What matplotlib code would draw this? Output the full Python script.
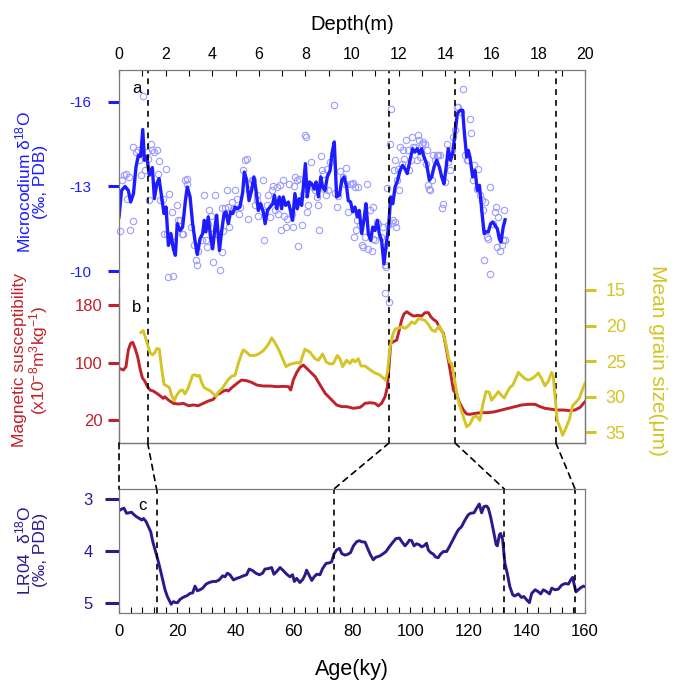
import matplotlib
matplotlib.use("Agg")
import matplotlib.pyplot as plt
from matplotlib.patches import ConnectionPatch
from matplotlib.ticker import MultipleLocator

plt.rcParams["font.family"] = ["Liberation Sans", "DejaVu Sans"]
plt.rcParams["mathtext.fontset"] = "custom"
plt.rcParams["mathtext.rm"] = "Liberation Sans"
plt.rcParams["mathtext.it"] = "Liberation Sans:italic"
plt.rcParams["axes.unicode_minus"] = False

# ===== データ =====
# (a) Microcodium d18O 平滑線 (深度 m)
mc_depth = [
    0.00, 0.11, 0.26, 0.40, 0.50, 0.62, 0.73, 0.83, 0.93, 1.02,
    1.09, 1.19, 1.30, 1.43, 1.52, 1.62, 1.72, 1.83, 1.93, 2.02,
    2.12, 2.23, 2.33, 2.42, 2.50, 2.62, 2.73, 2.85, 2.93, 3.05,
    3.16, 3.26, 3.36, 3.48, 3.59, 3.66, 3.73, 3.83, 3.93, 4.02,
    4.12, 4.19, 4.31, 4.41, 4.51, 4.59, 4.69, 4.79, 4.88, 4.98,
    5.08, 5.19, 5.31, 5.38, 5.48, 5.58, 5.69, 5.79, 5.88, 5.98,
    6.08, 6.19, 6.27, 6.37, 6.48, 6.60, 6.67, 6.77, 6.88, 6.98,
    7.05, 7.15, 7.27, 7.37, 7.45, 7.55, 7.65, 7.74, 7.84, 7.91,
    8.00, 8.08, 8.17, 8.27, 8.37, 8.46, 8.56, 8.66, 8.74, 8.84,
    8.94, 9.06, 9.14, 9.24, 9.34, 9.46, 9.56, 9.66, 9.77, 9.84,
    9.94, 10.03, 10.13, 10.23, 10.31, 10.42, 10.52, 10.60, 10.70, 10.80,
    10.89, 10.99, 11.09, 11.17, 11.27, 11.37, 11.49, 11.57, 11.66, 11.75,
    11.85, 11.96, 12.06, 12.17, 12.27, 12.37, 12.49, 12.60, 12.70, 12.80,
    12.89, 12.99, 13.09, 13.20, 13.32, 13.42, 13.52, 13.63, 13.75, 13.85,
    13.95, 14.06, 14.13, 14.23, 14.32, 14.42, 14.52, 14.64, 14.75, 14.82,
    14.92, 14.99, 15.06, 15.18, 15.28, 15.38, 15.47, 15.57, 15.67, 15.75,
    15.85, 15.95, 16.04, 16.14, 16.24, 16.32, 16.39, 16.49, 16.57,
]
mc_d18o = [
    -11.92, -12.86, -13.0, -12.86, -12.45, -12.75, -13.69, -14.1, -14.07, -15.02,
    -13.93, -14.07, -13.4, -13.67, -12.57, -13.1, -13.28, -12.63, -12.04, -12.27,
    -10.91, -11.33, -10.79, -10.56, -11.68, -11.44, -11.56, -12.5, -12.98, -12.63,
    -11.68, -11.09, -10.59, -11.15, -11.33, -11.8, -11.39, -11.92, -11.21, -10.79,
    -11.56, -11.98, -10.73, -11.44, -12.04, -12.1, -11.68, -12.1, -12.04, -12.27,
    -12.21, -12.27, -12.8, -13.51, -13.22, -12.5, -12.86, -13.34, -12.86, -12.15,
    -12.39, -12.1, -11.68, -12.15, -12.27, -12.39, -12.69, -12.21, -12.63, -12.21,
    -12.63, -12.33, -12.45, -12.1, -11.8, -12.75, -12.21, -12.57, -12.33, -12.98,
    -13.81, -12.63, -13.16, -13.1, -12.92, -13.16, -12.63, -13.34, -12.98, -12.86,
    -13.34, -13.57, -14.17, -14.58, -12.63, -12.69, -13.22, -13.34, -12.98, -12.5,
    -12.45, -12.1, -12.27, -11.92, -12.15, -11.33, -11.86, -12.39, -11.33, -11.09,
    -11.56, -11.44, -11.8, -11.33, -11.09, -10.26, -11.09, -11.56, -12.63, -12.39,
    -12.98, -13.22, -13.57, -13.75, -13.63, -13.46, -13.93, -14.34, -14.22, -14.34,
    -14.17, -14.34, -14.05, -13.81, -13.22, -13.34, -13.69, -13.93, -13.69, -13.34,
    -13.1, -13.81, -14.34, -13.93, -14.17, -14.88, -15.59, -15.7, -15.7, -14.93,
    -14.05, -14.28, -14.05, -13.34, -13.57, -12.86, -13.04, -12.15, -11.33, -11.39,
    -11.39, -11.68, -11.74, -11.62, -11.5, -11.15, -11.03, -11.56, -11.82,
]

# (a) 測定点
pt_depth = [
    0.04, 0.14, 0.21, 0.29, 0.33, 0.44, 0.47, 0.59, 0.62, 0.73,
    0.80, 0.87, 0.96, 1.04, 1.10, 1.19, 1.26, 1.30, 1.36, 1.40,
    1.52, 1.62, 1.67, 1.73, 1.76, 1.87, 1.93, 2.02, 2.05, 2.16,
    2.26, 2.33, 2.50, 2.55, 2.62, 2.69, 2.76, 2.83, 2.90, 2.93,
    3.08, 3.22, 3.30, 3.36, 3.40, 3.55, 3.65, 3.73, 3.76, 3.81,
    3.88, 3.95, 3.98, 4.05, 4.12, 4.19, 4.33, 4.41, 4.43, 4.48,
    4.55, 4.62, 4.69, 4.74, 4.84, 4.88, 4.98, 5.08, 5.16, 5.19,
    5.31, 5.41, 5.48, 5.55, 5.59, 5.69, 5.77, 5.84, 5.91, 5.94,
    5.98, 6.17, 6.22, 6.27, 6.34, 6.41, 6.48, 6.55, 6.62, 6.70,
    6.77, 6.84, 6.91, 6.94, 7.02, 7.08, 7.15, 7.20, 7.31, 7.41,
    7.45, 7.51, 7.57, 7.65, 7.67, 7.74, 7.84, 7.91, 7.97, 8.03,
    8.08, 8.13, 8.24, 8.34, 8.41, 8.48, 8.56, 8.60, 8.66, 8.70,
    8.77, 8.81, 8.88, 8.94, 8.98, 9.06, 9.23, 9.27, 9.34, 9.41,
    9.49, 9.60, 9.70, 9.74, 9.84, 9.91, 9.99, 10.06, 10.09, 10.13,
    10.17, 10.20, 10.27, 10.34, 10.42, 10.49, 10.56, 10.63, 10.70, 10.77,
    10.84, 10.89, 10.92, 10.99, 11.06, 11.13, 11.23, 11.34, 11.37, 11.42,
    11.46, 11.52, 11.56, 11.63, 11.66, 11.70, 11.75, 11.85, 11.89, 11.80,
    11.85, 11.92, 11.96, 12.03, 12.06, 12.13, 12.17, 12.23, 12.32, 12.42,
    12.46, 12.52, 12.56, 12.63, 12.70, 12.78, 12.85, 12.89, 12.92, 12.99,
    13.06, 13.13, 13.18, 13.20, 13.28, 13.32, 13.35, 13.42, 13.49, 13.56,
    13.63, 13.71, 13.78, 13.85, 13.92, 13.99, 14.06, 14.13, 14.21, 14.28,
    14.35, 14.42, 14.49, 14.56, 14.66, 14.78, 14.85, 14.92, 14.99, 15.06,
    15.09, 15.18, 15.25, 15.35, 15.42, 15.49, 15.57, 15.64, 15.67, 15.71,
    15.78, 15.85, 15.92, 15.92, 16.04, 16.14, 16.18, 16.21, 16.28, 16.35,
    16.42, 16.47, 16.52, 16.57, 11.42, 11.59, 2.10, 2.32,
]
pt_d18o = [
    -11.42, -13.22, -13.40, -13.46, -12.57, -13.34, -11.44, -11.78, -14.40, -14.22,
    -14.28, -13.93, -13.42, -16.20, -13.57, -14.22, -13.99, -12.51, -14.50, -14.28,
    -14.22, -14.31, -13.46, -13.91, -12.51, -12.57, -11.30, -13.63, -11.33, -12.75,
    -12.09, -11.03, -12.33, -11.80, -11.80, -11.33, -11.33, -13.22, -13.10, -13.27,
    -11.56, -10.91, -10.38, -10.20, -10.73, -11.09, -12.69, -11.09, -10.85, -11.68,
    -12.15, -11.94, -11.33, -10.32, -12.69, -11.33, -10.05, -10.67, -12.25, -11.42,
    -12.25, -12.89, -12.27, -11.56, -12.45, -12.21, -12.86, -12.57, -12.04, -12.27,
    -13.57, -13.93, -13.99, -11.86, -12.86, -13.22, -13.22, -12.33, -12.51, -12.69,
    -11.94, -13.22, -11.09, -12.09, -12.33, -12.69, -11.92, -12.86, -13.01, -12.15,
    -12.98, -12.04, -13.04, -11.47, -13.22, -11.94, -11.56, -11.86, -13.10, -12.04,
    -11.56, -13.01, -13.34, -13.22, -10.88, -13.28, -11.62, -12.75, -14.82, -14.76,
    -12.09, -12.33, -13.87, -12.98, -12.86, -12.63, -12.33, -11.44, -14.07, -13.57,
    -13.46, -12.92, -12.69, -13.63, -12.86, -13.87, -15.88, -12.77, -12.27, -12.65,
    -13.55, -13.34, -13.10, -13.67, -12.09, -13.10, -13.10, -13.12, -11.21, -12.98,
    -11.44, -11.80, -12.98, -11.62, -10.91, -10.85, -11.21, -13.10, -10.79, -12.15,
    -10.73, -12.27, -11.15, -11.09, -11.74, -11.68, -11.21, -11.56, -10.85, -10.20,
    -10.14, -12.96, -11.62, -14.52, -15.76, -11.70, -11.80, -11.74, -11.56, -13.57,
    -13.93, -13.22, -13.63, -12.86, -14.40, -13.81, -14.28, -13.99, -14.64, -14.28,
    -13.57, -13.93, -14.76, -14.40, -14.40, -13.93, -14.82, -14.64, -14.05, -14.52,
    -14.58, -14.52, -13.81, -14.28, -13.04, -12.92, -12.86, -13.22, -14.11, -13.93,
    -14.11, -14.11, -14.11, -12.25, -12.37, -13.16, -14.52, -13.87, -13.57, -14.28,
    -14.76, -15.01, -15.82, -15.82, -15.64, -16.45, -14.11, -13.93, -13.93, -15.41,
    -14.88, -13.22, -13.75, -12.92, -13.63, -12.69, -12.51, -12.15, -10.38, -12.45,
    -11.21, -11.15, -12.98, -9.91, -11.68, -12.09, -12.27, -10.85, -11.92, -10.73,
    -10.91, -11.09, -12.15, -11.09, -9.24, -8.89, -9.78, -9.81,
]

# (b) 帯磁率
ms_depth = [
    0.00, 0.19, 0.30, 0.40, 0.50, 0.59, 0.69, 0.80, 0.90, 1.00,
    1.12, 1.22, 1.33, 1.47, 1.62, 1.76, 1.90, 1.97, 2.12, 2.33,
    2.55, 2.76, 2.98, 3.19, 3.40, 3.62, 3.83, 4.05, 4.19, 4.33,
    4.48, 4.62, 4.69, 4.84, 4.98, 5.12, 5.26, 5.48, 5.69, 5.91,
    6.19, 6.48, 6.77, 7.05, 7.27, 7.37, 7.48, 7.63, 7.77, 7.91,
    8.13, 8.42, 8.63, 8.85, 9.06, 9.34, 9.56, 9.77, 10.06, 10.35,
    10.56, 10.78, 10.99, 11.13, 11.27, 11.42, 11.52, 11.60, 11.66, 11.78,
    11.92, 12.03, 12.13, 12.23, 12.35, 12.49, 12.63, 12.85, 12.99, 13.13,
    13.28, 13.38, 13.49, 13.63, 13.78, 13.92, 14.06, 14.21, 14.35, 14.49,
    14.63, 14.78, 14.92, 15.06, 15.28, 15.57, 15.85, 16.14, 16.42, 16.71,
    17.00, 17.28, 17.57, 17.86, 18.07, 18.28, 18.57, 18.78, 19.07, 19.36,
    19.57, 19.79, 20.00,
]
ms_val = [
    91.9, 89.6, 94.2, 117.4, 126.7, 128.1, 119.7, 108.1, 91.9, 78.9,
    73.3, 66.4, 61.7, 60.3, 57.1, 53.8, 50.1, 52.4, 47.8, 43.2,
    42.2, 43.2, 39.9, 40.9, 39.9, 43.2, 46.4, 48.7, 54.8, 57.1,
    60.3, 61.7, 60.3, 65.0, 68.7, 72.4, 75.6, 74.7, 72.4, 68.7,
    67.3, 67.3, 66.4, 66.8, 66.4, 61.7, 75.6, 86.3, 93.3, 96.5,
    89.6, 80.3, 68.7, 57.1, 50.2, 40.9, 38.6, 38.6, 36.3, 37.6,
    43.2, 44.1, 43.2, 39.5, 43.2, 52.5, 66.4, 98.9, 126.7, 129.0,
    131.3, 145.2, 159.1, 167.5, 170.7, 167.5, 164.7, 165.6, 164.7, 169.3,
    169.3, 163.8, 160.1, 156.8, 147.5, 140.6, 117.4, 89.6, 61.8, 54.8,
    43.2, 33.9, 28.4, 27.9, 29.3, 30.2, 30.2, 31.6, 33.9, 36.3,
    38.6, 40.9, 41.8, 41.8, 38.6, 36.3, 34.9, 33.9, 33.9, 33.0,
    33.9, 37.6, 45.5,
]

# (b) 平均粒径
gs_depth = [
    0.94, 1.04, 1.12, 1.22, 1.33, 1.44, 1.55, 1.62, 1.73, 1.83,
    1.93, 2.05, 2.16, 2.26, 2.37, 2.47, 2.62, 2.73, 2.83, 2.95,
    3.05, 3.16, 3.26, 3.36, 3.45, 3.55, 3.65, 3.76, 3.91, 4.05,
    4.16, 4.26, 4.41, 4.55, 4.69, 4.84, 4.98, 5.12, 5.26, 5.34,
    5.48, 5.62, 5.77, 5.91, 6.05, 6.19, 6.34, 6.45, 6.55, 6.65,
    6.77, 6.91, 7.05, 7.17, 7.31, 7.48, 7.63, 7.77, 7.98, 8.20,
    8.41, 8.56, 8.74, 8.89, 9.06, 9.20, 9.37, 9.48, 9.60, 9.77,
    9.91, 10.03, 10.13, 10.27, 10.39, 10.56, 10.78, 10.99, 11.17, 11.34,
    11.43, 11.52, 11.63, 11.75, 11.85, 11.99, 12.13, 12.28, 12.42, 12.56,
    12.70, 12.85, 12.99, 13.13, 13.28, 13.42, 13.56, 13.66, 13.75, 13.85,
    13.95, 14.06, 14.18, 14.28, 14.38, 14.49, 14.61, 14.75, 14.92, 15.06,
    15.21, 15.35, 15.49, 15.61, 15.75, 15.89, 15.99, 16.14, 16.28, 16.42,
    16.54, 16.67, 16.78, 16.90, 17.00, 17.14, 17.28, 17.43, 17.57, 17.71,
    17.86, 18.00, 18.14, 18.28, 18.43, 18.57, 18.64, 18.71, 18.81, 18.93,
    19.04, 19.18, 19.33, 19.47, 19.61, 19.76, 19.90, 20.00,
]
gs_val = [
    20.98, 20.71, 21.52, 22.64, 23.77, 24.13, 23.77, 23.23, 23.32, 26.01,
    28.26, 28.48, 28.71, 29.83, 30.59, 29.83, 29.16, 29.07, 29.61, 28.93,
    28.03, 27.0, 26.91, 27.13, 27.0, 28.03, 28.71, 28.93, 29.16, 29.61,
    29.96, 29.38, 28.93, 28.26, 27.58, 27.13, 27.0, 25.34, 23.99, 23.41,
    23.77, 24.21, 24.21, 24.13, 23.86, 23.54, 22.96, 22.42, 21.74, 22.19,
    22.87, 23.77, 24.89, 25.79, 25.47, 25.34, 25.2, 25.33, 23.31, 23.76,
    24.66, 24.88, 23.99, 25.11, 25.42, 25.33, 24.21, 24.66, 25.78, 24.88,
    25.33, 24.79, 25.11, 24.66, 25.69, 25.69, 26.23, 26.68, 26.91, 27.36,
    27.67, 26.68, 23.09, 21.29, 20.48, 20.39, 20.17, 20.39, 20.03, 19.49,
    19.72, 19.04, 19.13, 19.27, 19.85, 20.62, 20.84, 20.39, 20.03, 20.75,
    21.52, 23.09, 25.11, 25.33, 27.13, 29.38, 31.17, 32.52, 34.23, 33.87,
    32.88, 32.75, 33.33, 31.17, 29.29, 29.38, 30.50, 29.92, 29.29, 29.83,
    30.19, 29.29, 28.70, 28.39, 27.67, 26.59, 27.04, 27.49, 27.67, 27.49,
    27.13, 26.68, 27.49, 28.48, 27.81, 26.59, 27.13, 29.83, 33.42, 34.32,
    35.44, 34.41, 33.20, 31.26, 30.81, 30.19, 28.93, 28.12,
]

# (c) LR04 d18O (年代 ky)
lr_age = [
    0, 0.9, 1.7, 2.6, 3.5, 4.3, 5.2, 6.1, 7.0, 7.8,
    8.4, 9.3, 10.1, 10.9, 11.6, 12.4, 13.2, 14.1, 15.0, 15.8,
    16.6, 17.3, 17.9, 18.7, 19.5, 20.1, 20.9, 21.9, 22.7, 23.5,
    24.4, 25.3, 26.1, 26.9, 27.8, 28.7, 29.9, 31.0, 32.2, 33.3,
    34.4, 35.6, 36.4, 37.2, 38.1, 39.3, 40.4, 41.5, 42.7, 43.8,
    44.7, 45.9, 47.0, 48.2, 49.3, 50.1, 51.3, 52.4, 53.2, 54.1,
    55.3, 56.4, 57.6, 58.7, 59.6, 60.2, 61.0, 62.1, 63.1, 63.9,
    64.4, 65.4, 66.2, 67.0, 67.9, 69.0, 69.9, 71.1, 72.2, 73.0,
    73.8, 74.7, 75.7, 76.5, 77.6, 78.7, 79.5, 80.5, 81.6, 82.5,
    83.3, 84.5, 85.6, 86.4, 87.3, 88.2, 89.4, 90.5, 91.7, 92.8,
    93.9, 95.1, 96.3, 97.1, 98.2, 99.0, 99.7, 100.5, 101.3, 102.2,
    103.1, 103.9, 104.7, 105.6, 106.2, 107.0, 107.9, 108.8, 109.6, 110.4,
    111.4, 112.5, 113.4, 114.6, 115.7, 116.5, 117.6, 118.8, 119.9, 120.7,
    121.9, 122.8, 123.7, 124.5, 125.3, 126.2, 126.8, 127.6, 128.5, 129.5,
    129.9, 130.6, 131.0, 131.7, 132.5, 133.3, 134.2, 135.2, 135.9, 137.1,
    138.2, 139.0, 139.9, 140.9, 141.7, 142.9, 144.0, 144.8, 145.7, 146.9,
    147.8, 148.6, 149.7, 150.8, 152.0, 153.1, 154.3, 155.1, 155.8, 156.2,
    156.9, 158.3, 159.4, 160.0,
]
lr_d18o = [
    3.22, 3.19, 3.17, 3.27, 3.26, 3.25, 3.30, 3.34, 3.37, 3.40,
    3.37, 3.43, 3.53, 3.63, 3.82, 3.98, 4.14, 4.34, 4.56, 4.75,
    4.88, 4.96, 5.03, 4.98, 5.00, 5.00, 4.94, 4.90, 4.88, 4.86,
    4.82, 4.81, 4.68, 4.77, 4.75, 4.72, 4.64, 4.61, 4.59, 4.59,
    4.56, 4.48, 4.50, 4.43, 4.46, 4.56, 4.53, 4.51, 4.48, 4.46,
    4.35, 4.38, 4.43, 4.46, 4.43, 4.35, 4.34, 4.32, 4.45, 4.40,
    4.32, 4.38, 4.45, 4.50, 4.46, 4.59, 4.53, 4.61, 4.55, 4.46,
    4.37, 4.48, 4.57, 4.50, 4.45, 4.46, 4.34, 4.24, 4.23, 4.21,
    4.06, 3.98, 3.95, 4.05, 4.08, 4.06, 4.03, 3.90, 3.82, 3.80,
    3.82, 3.83, 3.98, 4.08, 4.17, 4.12, 4.10, 4.06, 4.01, 3.92,
    3.84, 3.76, 3.75, 3.82, 3.90, 3.85, 3.79, 3.80, 3.90, 3.86,
    3.88, 3.92, 3.90, 3.85, 3.98, 4.03, 4.06, 4.12, 4.13, 4.06,
    4.01, 4.01, 3.92, 3.79, 3.67, 3.59, 3.53, 3.40, 3.30, 3.27,
    3.26, 3.17, 3.09, 3.26, 3.14, 3.13, 3.17, 3.34, 3.59, 3.88,
    3.90, 3.69, 3.66, 3.77, 4.24, 4.43, 4.69, 4.85, 4.87, 4.83,
    4.90, 4.88, 4.94, 5.00, 4.82, 4.75, 4.79, 4.83, 4.75, 4.79,
    4.83, 4.72, 4.75, 4.74, 4.66, 4.63, 4.64, 4.56, 4.51, 4.63,
    4.79, 4.72, 4.68, 4.69,
]

# 対比線 (深度 -> 年代)
tie_depth = [0, 1.23, 11.59, 14.42, 18.75]
tie_age = [0, 12.9, 73.8, 132.3, 156.6]

# ===== 色 =====
C_BLUE = "#1c1cff"
C_PTS = "#9c9cff"
C_RED = "#c0222a"
C_YEL = "#d4c425"
C_NAVY = "#2a1a8c"
C_SPINE = "#7a7a7a"

fig = plt.figure(figsize=(6.81, 6.84), dpi=100)
L, W = 119 / 681, 466 / 681
ax_a = fig.add_axes([L, 1 - 290 / 684, W, 220 / 684], facecolor="none")
ax_b = fig.add_axes([L, 1 - 443 / 684, W, 153 / 684], facecolor="none")
ax_g = ax_b.twinx()
ax_c = fig.add_axes([L, 1 - 613 / 684, W, 124 / 684], facecolor="none")

for ax in (ax_a, ax_b, ax_g, ax_c):
    for s in ax.spines.values():
        s.set_color(C_SPINE)
        s.set_linewidth(0.9)

# ===== (a) =====
ax_a.plot(pt_depth, pt_d18o, "o", ms=4.6, mfc="none", mec=C_PTS, mew=0.8, clip_on=False)
ax_a.plot(mc_depth, mc_d18o, color=C_BLUE, lw=2.4)
ax_a.set_xlim(0, 20)
ax_a.set_ylim(-9.33, -17.13)
ax_a.spines["bottom"].set_visible(False)
ax_a.xaxis.tick_top()
ax_a.xaxis.set_major_locator(MultipleLocator(2))
ax_a.xaxis.set_minor_locator(MultipleLocator(1))
ax_a.tick_params(axis="x", which="both", direction="in", length=4, width=0.8,
                 color="black", labelsize=11.5, pad=6)
ax_a.set_yticks([-16, -13, -10])
ax_a.tick_params(axis="y", direction="out", length=8, width=2.2, color=C_BLUE,
                 labelcolor=C_BLUE, labelsize=11, pad=12)
ax_a.text(0.55, -16.3, "a", fontsize=12)
ax_a.set_xlabel("Depth(m)", fontsize=14.5, labelpad=12)
ax_a.xaxis.set_label_position("top")

# ===== (b) =====
ax_b.plot(ms_depth, ms_val, color=C_RED, lw=2.1)
ax_b.set_xlim(0, 20)
ax_b.set_ylim(-12, 200.9)
ax_b.spines["top"].set_visible(False)
ax_b.set_xticks([])
ax_b.set_yticks([180, 100, 20])
ax_b.tick_params(axis="y", direction="out", length=8, width=2.2, color=C_RED,
                 labelcolor=C_RED, labelsize=12, pad=4)
ax_b.text(0.55, 176, "b", fontsize=12, va="center")

ax_g.plot(gs_depth, gs_val, color=C_YEL, lw=2.1)
ax_g.set_ylim(36.52, 15.9)
ax_g.spines["top"].set_visible(False)
ax_g.set_yticks([15, 20, 25, 30, 35])
ax_g.tick_params(axis="y", direction="out", length=8, width=2.2, color=C_YEL,
                 labelcolor=C_YEL, labelsize=13, pad=7)

# ===== (c) =====
ax_c.plot(lr_age, lr_d18o, color=C_NAVY, lw=2.1)
ax_c.set_xlim(0, 160)
ax_c.set_ylim(5.2, 2.8)
ax_c.set_yticks([3, 4, 5])
ax_c.tick_params(axis="y", direction="out", length=10, width=2.2, color=C_NAVY,
                 labelcolor=C_NAVY, labelsize=12, pad=9)
ax_c.xaxis.set_major_locator(MultipleLocator(20))
ax_c.xaxis.set_minor_locator(MultipleLocator(4))
ax_c.tick_params(axis="x", which="both", direction="in", length=4, width=0.8,
                 color="black", labelsize=12, pad=8)
ax_c.text(6.5, 3.12, "c", fontsize=12, va="center")
ax_c.set_xlabel("Age(ky)", fontsize=15.5, labelpad=14)

# ===== 対比の破線 =====
dash = dict(color="black", lw=1.2, linestyle=(0, (3.5, 3)))
for d, t in zip(tie_depth, tie_age):
    ax_a.axvline(d, **dash)
    ax_b.axvline(d, **dash)
    ax_c.axvline(t, **dash)
    con = ConnectionPatch(xyA=(d, -12), coordsA=ax_b.transData,
                          xyB=(t, 2.8), coordsB=ax_c.transData, **dash)
    fig.add_artist(con)

# ===== 軸ラベル =====
fig.text(31 / 681, 1 - 182 / 684, "Microcodium δ$^{18}$O\n(‰, PDB)", rotation=90,
         ha="center", va="center", multialignment="center", color=C_BLUE,
         fontsize=12.5, linespacing=1.0)
fig.text(31 / 681, 1 - 360 / 684,
         "Magnetic susceptibility\n(x10$^{-8}$m$^{3}$kg$^{-1}$)", rotation=90,
         ha="center", va="center", multialignment="center", color=C_RED,
         fontsize=12.5, linespacing=1.0)
fig.text(31 / 681, 1 - 550 / 684, "LR04  δ$^{18}$O\n(‰, PDB)", rotation=90,
         ha="center", va="center", multialignment="center", color=C_NAVY,
         fontsize=12.5, linespacing=1.0)
fig.text(658 / 681, 1 - 360 / 684, "Mean grain size(μm)", rotation=270,
         ha="center", va="center", color=C_YEL, fontsize=15)

fig.savefig("out.png", dpi=100)
